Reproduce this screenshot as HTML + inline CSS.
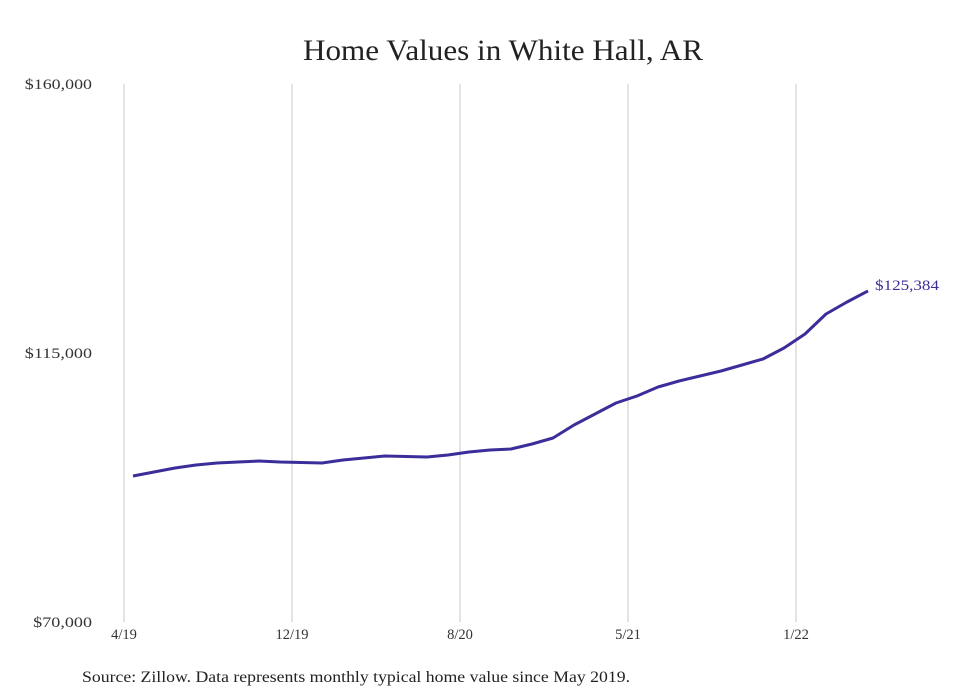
<!DOCTYPE html>
<html><head><meta charset="utf-8"><style>
body{margin:0;background:#fff;}
svg{display:block;font-family:"Liberation Serif",serif;}
</style></head><body>
<svg id="chart" width="980" height="699">
<text x="503" y="60" text-anchor="middle" font-size="30" textLength="400" lengthAdjust="spacingAndGlyphs" fill="#222">Home Values in White Hall, AR</text>
<g id="grid"></g>
<g id="yticks"></g>
<g id="xticks"></g>
<path id="line" fill="none" stroke="#3b2e9a" stroke-width="3" stroke-linejoin="round"></path>
<text id="endlabel" font-size="15" textLength="64" lengthAdjust="spacingAndGlyphs" fill="#3b2e9a"></text>
<text x="82" y="682" font-size="15.5" textLength="548" lengthAdjust="spacingAndGlyphs" fill="#222">Source: Zillow. Data represents monthly typical home value since May 2019.</text>
</svg>
<script>
const values=[94424,95093,95762,96264,96599,96766,96933,96766,96680,96599,97100,97435,97770,97686,97602,97937,98439,98773,98941,99777,100781,102955,104796,106636,107807,109313,110316,111152,111989,112993,113996,115836,118178,121524,123532,125384];
const yTicks=[70000,115000,160000];
const yTickLabels=["$70,000","$115,000","$160,000"];
const xTickLabels=["4/19","12/19","8/20","5/21","1/22"];
const xTickMonths=[-0.43,7.57,15.57,23.57,31.57];
const NS="http://www.w3.org/2000/svg";
const y=v=>622-(v-70000)/90000*538;
const x=i=>133+21*i;
const grid=document.getElementById('grid'),yt=document.getElementById('yticks'),xt=document.getElementById('xticks');
xTickMonths.forEach((m,k)=>{
 const l=document.createElementNS(NS,'line');
 l.setAttribute('x1',x(m));l.setAttribute('x2',x(m));l.setAttribute('y1',84);l.setAttribute('y2',622);
 l.setAttribute('stroke','#c8c8c8');l.setAttribute('stroke-width','1');
 
 
 grid.appendChild(l);
 const t=document.createElementNS(NS,'text');
 t.setAttribute('x',x(m));t.setAttribute('y',639);t.setAttribute('text-anchor','middle');
 t.setAttribute('font-size','14.5');t.setAttribute('fill','#333');t.textContent=xTickLabels[k];
 
 
 xt.appendChild(t);
});
yTicks.forEach((v,k)=>{
 const t=document.createElementNS(NS,'text');
 t.setAttribute('x',92);t.setAttribute('y',y(v)+5);t.setAttribute('text-anchor','end');
 t.setAttribute('font-size','14.5');t.setAttribute('fill','#333');t.textContent=yTickLabels[k];
 t.setAttribute('textLength',yTickLabels[k].length*8.4);
 t.setAttribute('lengthAdjust','spacingAndGlyphs');
 
 
 yt.appendChild(t);
});
document.getElementById('line').setAttribute('d',values.map((v,i)=>(i?'L':'M')+x(i)+','+y(v)).join(''));
const n=values.length-1,el=document.getElementById('endlabel');
el.setAttribute('x',x(n)+7);el.setAttribute('y',y(values[n])-1);
el.textContent='$'+values[n].toLocaleString('en-US');
</script>
</body></html>
